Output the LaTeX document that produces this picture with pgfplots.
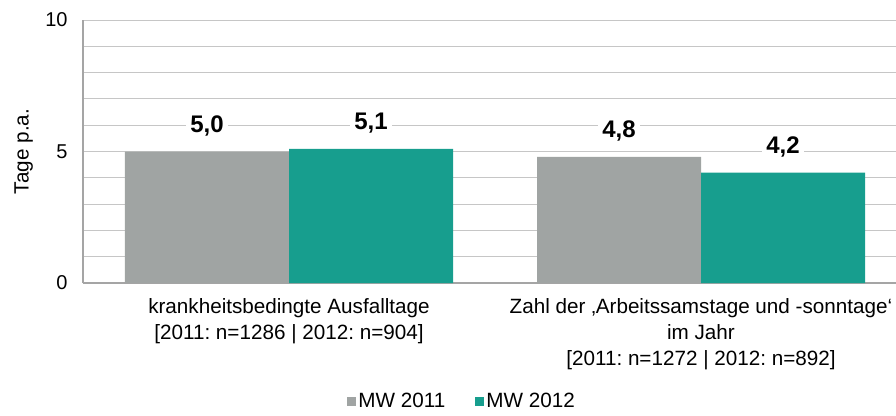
\documentclass[border=0pt]{standalone}
\usepackage{fontspec}
\setmainfont{Liberation Sans}
\usepackage{pgfplots}
\pgfplotsset{compat=1.18}
\definecolor{bargray}{RGB}{160,164,163}
\definecolor{barteal}{RGB}{23,158,142}
\definecolor{gridc}{RGB}{198,198,198}
\definecolor{axisc}{RGB}{165,165,165}
\frenchspacing
\begin{document}
\begin{tikzpicture}
\begin{axis}[
  name=ax,
  scale only axis,
  width=618pt, height=197.25pt,
  xmin=-0.5, xmax=1.5,
  ymin=0, ymax=10,
  ytick={0,5,10},
  minor y tick num=4,
  ymajorgrids, yminorgrids,
  major grid style={gridc, line width=0.75pt},
  minor grid style={gridc, line width=0.75pt},
  axis x line*=bottom, axis y line*=left,
  axis line style={axisc, line width=1pt, -},
  major tick length=0pt, minor tick length=0pt,
  xtick={0,1},
  xticklabels={{krankheitsbedingte Ausfalltage\\{}[2011: n=1286 | 2012: n=904]},
               {Zahl der ‚Arbeitssamstage und -sonntage‘\\im Jahr\\{}[2011: n=1272 | 2012: n=892]}},
  xticklabel style={align=center, font=\fontsize{15.5pt}{19.5pt}\selectfont, yshift=-8pt},
  yticklabel style={font=\fontsize{15pt}{18pt}\selectfont, xshift=-8pt},
  /pgf/number format/assume math mode=true,
  ylabel={Tage p.a.},
  ylabel style={at={(axis description cs:-0.072,0.5)}, anchor=center, font=\fontsize{15.5pt}{18pt}\selectfont},
  ybar, bar width=123pt,
  nodes near coords={\pgfmathprintnumber[fixed,fixed zerofill,precision=1,use comma]{\pgfplotspointmeta}},
  nodes near coords style={font=\bfseries\fontsize{18pt}{20pt}\selectfont, fill=white, inner sep=3pt, anchor=south, yshift=8.5pt},
  legend style={draw=none, legend columns=2, at={(0.46,-0.45)}, anchor=center,
     font=\fontsize{15.5pt}{18pt}\selectfont,
     /tikz/every even column/.append style={column sep=20pt}},
  legend image code/.code={\fill[#1,draw=none] (0pt,-3.4pt) rectangle (6.8pt,3.4pt);},
]
\addplot[fill=bargray, draw=none, bar shift=-61.5pt] coordinates {(0,5.0) (1,4.8)};
\addplot[fill=barteal, draw=none, bar shift=61.5pt] coordinates {(0,5.1) (1,4.2)};
\legend{MW 2011, MW 2012}
\end{axis}
\pgfresetboundingbox
\path ([xshift=-62.25pt,yshift=-99pt]ax.south west) rectangle ([xshift=609.75pt,yshift=212.25pt]ax.south west);
\end{tikzpicture}
\end{document}
